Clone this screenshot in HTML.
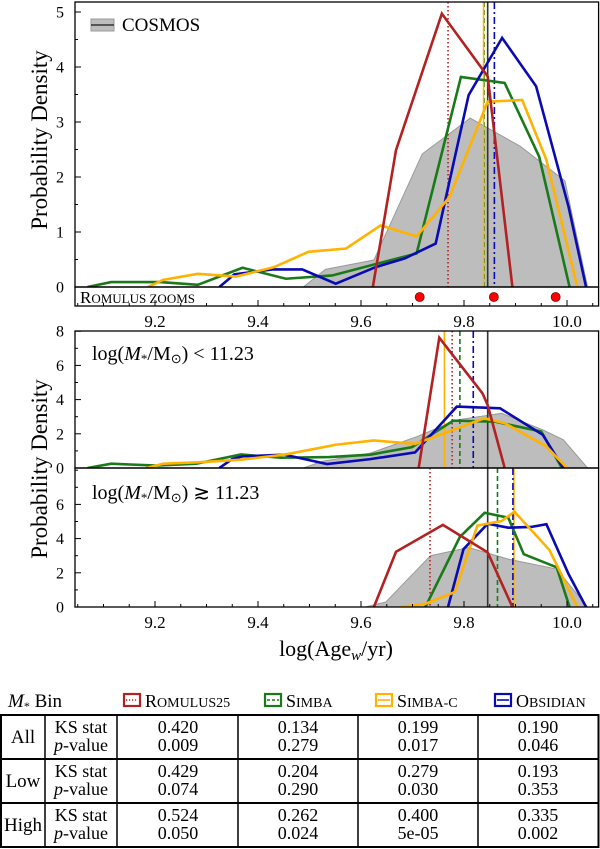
<!DOCTYPE html>
<html><head><meta charset="utf-8">
<style>
body{margin:0;background:#fff;width:600px;height:849px;overflow:hidden;font-family:"Liberation Serif",serif;}
svg{position:absolute;left:0;top:0}
</style></head>
<body>
<svg id="chart" width="600" height="849" viewBox="0 0 600 849" font-family="Liberation Serif, serif"></svg>
<script>
// ---------- data ----------
const topCosmosX=[9.488,9.531,9.625,9.719,9.812,9.909,9.996,10.040];
const topCosmosY=[0,0.32,0.49,2.42,3.07,2.56,1.93,0];
const topRomX=[9.623,9.668,9.757,9.846,9.894];
const topRomY=[0,2.49,4.97,3.83,0];
const topSimX=[9.069,9.115,9.210,9.283,9.370,9.454,9.544,9.708,9.794,9.879,9.946,10.005];
const topSimY=[0,0.09,0.09,0.04,0.35,0.15,0.21,0.61,3.82,3.71,2.37,0];
const topSimCX=[9.186,9.216,9.283,9.357,9.431,9.498,9.571,9.638,9.708,9.772,9.846,9.913,9.960,10.020];
const topSimCY=[0,0.13,0.24,0.19,0.36,0.64,0.70,1.12,0.92,1.64,3.37,3.40,2.31,0];
const topObsX=[9.325,9.354,9.427,9.486,9.551,9.628,9.685,9.745,9.809,9.874,9.940,10.003,10.037];
const topObsY=[0,0.23,0.32,0.32,0.06,0.36,0.52,0.79,3.49,4.53,3.65,1.46,0];
const topMedians=[9.769,9.839,9.838,9.859,9.846]; // rom, simba, simbaC, obs, cosmos
const zoomAges=[9.714,9.858,9.978];

const lowCosmosX=[9.488,9.525,9.618,9.709,9.786,9.873,9.953,9.993,10.040];
const lowCosmosY=[0,0.39,0.87,1.84,2.81,3.20,2.23,1.65,0];
const lowRomX=[9.712,9.752,9.836,9.846,9.879];
const lowRomY=[0,7.62,4.36,3.68,0];
const lowSimX=[9.069,9.115,9.203,9.280,9.367,9.444,9.538,9.618,9.699,9.779,9.860,9.950,9.990];
const lowSimY=[0,0.25,0.14,0.25,0.79,0.60,0.64,0.78,1.22,2.77,2.71,2.13,0];
const lowSimCX=[9.183,9.216,9.283,9.364,9.451,9.551,9.625,9.705,9.779,9.839,9.879,9.960,10.000];
const lowSimCY=[0,0.25,0.33,0.48,0.78,1.36,1.61,1.41,2.23,2.91,2.62,1.26,0];
const lowObsX=[9.325,9.350,9.370,9.451,9.534,9.618,9.705,9.786,9.870,9.953,9.993];
const lowObsY=[0,0.52,0.68,0.78,0.23,0.52,0.91,3.59,3.49,1.94,0];
const lowMedians=[9.777,9.792,9.762,9.818,9.846];

const highCosmosX=[9.608,9.648,9.735,9.809,9.886,9.980,10.040];
const highCosmosY=[0,0.29,3.0,3.48,2.80,2.22,0];
const highRomX=[9.625,9.668,9.759,9.846,9.894];
const highRomY=[0,3.23,4.80,3.19,0];
const highSimX=[9.725,9.792,9.840,9.886,9.916,9.980,10.005];
const highSimY=[0,4.10,5.51,5.22,3.09,2.32,0];
const highSimCX=[9.675,9.725,9.782,9.826,9.873,9.898,9.966,10.020];
const highSimCY=[0,0.19,0.87,4.76,5.03,5.57,3.33,0];
const highObsX=[9.769,9.799,9.846,9.886,9.930,9.960,10.003,10.037];
const highObsY=[0,3.38,4.87,4.64,4.68,4.84,1.93,0];
const highMedians=[9.734,9.865,9.897,9.895,9.846];

const xTicks=[9.2,9.4,9.6,9.8,10.0];
const xTickLabels=["9.2","9.4","9.6","9.8","10.0"];
const topYTicks=[0,1,2,3,4,5];
const subYTicks=[0,2,4,6,8];

// ---------- geometry ----------
const L=75,R=598.6;
const X=v=>155+(v-9.2)*515;
const NS="http://www.w3.org/2000/svg";
const svg=document.getElementById('chart');
function el(tag,attrs,parent){const e=document.createElementNS(NS,tag);for(const k in attrs)e.setAttribute(k,attrs[k]);(parent||svg).appendChild(e);return e;}
const COL={rom:"#b22222",sim:"#1a7a1a",simc:"#ffb300",obs:"#0a0ab4",cos:"#000"};

function panel(name,top,bottom,y0px,pxPerUnit,ymax,series,medians,medTop,yticks,minorStep){
  const g=el('g',{});
  
  
  const Y=v=>y0px-v*pxPerUnit;
  const clip=el('clipPath',{id:'clip-'+name},g);
  el('rect',{x:L,y:top,width:R-L,height:bottom-top},clip);
  const pg=el('g',{'clip-path':'url(#clip-'+name+')'},g);
  let d='M'+X(series.cx[0])+','+Y(0);
  series.cx.forEach((v,i)=>d+=' L'+X(v)+','+Y(series.cy[i]));
  d+=' Z';
  const c=el('path',{d:d,fill:'#bdbdbd',stroke:'#9a9a9a','stroke-width':1},pg);
  
  
  const mstyles=[[COL.rom,'1.5,2.5',1.6],[COL.sim,'5,3',1.6],[COL.simc,'',1.6],[COL.obs,'7,3,2,3',1.6],['#333','',1.6]];
  const mnames=['median-romulus25','median-simba','median-simba-c','median-obsidian','median-cosmos'];
  medians.forEach((m,i)=>{
    const ln=el('line',{x1:X(m),x2:X(m),y1:medTop,y2:y0px,stroke:mstyles[i][0],'stroke-width':mstyles[i][2],'stroke-dasharray':mstyles[i][1]},pg);
    
    
  });
  const order=[['sx','sy',COL.sim,'simba-line'],['ox','oy',COL.obs,'obsidian-line'],['scx','scy',COL.simc,'simba-c-line'],['rx','ry',COL.rom,'romulus25-line']];
  order.forEach(o=>{
    const xs=series[o[0]],ys=series[o[1]];
    const pts=xs.map((v,i)=>X(v)+','+Y(ys[i])).join(' ');
    const p=el('polyline',{points:pts,fill:'none',stroke:o[2],'stroke-width':2.6,'stroke-linejoin':'miter'},pg);
    
    
  });
  el('rect',{x:L,y:top,width:R-L,height:bottom-top,fill:'none',stroke:'#000','stroke-width':1.3},g);
  yticks.forEach(t=>{
    el('line',{x1:L,x2:L+6,y1:Y(t),y2:Y(t),stroke:'#000','stroke-width':1},g);
    const tx=el('text',{x:L-11,y:Y(t)+5.5,'text-anchor':'end','font-size':16},g);tx.textContent=t;
    
    
  });
  for(let t=minorStep;t<ymax;t+=minorStep){if(yticks.indexOf(Math.round(t*100)/100)>=0)continue;el('line',{x1:L,x2:L+3,y1:Y(t),y2:Y(t),stroke:'#000','stroke-width':1},g);}
  return Y;
}

panel('panel-all',2,287,287,55,5.18,{cx:topCosmosX,cy:topCosmosY,rx:topRomX,ry:topRomY,sx:topSimX,sy:topSimY,scx:topSimCX,scy:topSimCY,ox:topObsX,oy:topObsY},topMedians,2,topYTicks,0.5);
el('rect',{x:L,y:287,width:R-L,height:19,fill:'none',stroke:'#000','stroke-width':1.3});
const rz=el('text',{x:80,y:303,'font-size':17});
rz.innerHTML='R<tspan font-size="13">OMULUS ZOOMS</tspan>';


zoomAges.forEach(a=>{
  const c=el('circle',{cx:X(a),cy:297,r:4.5,fill:'#ff0000',stroke:'#8b0000','stroke-width':0.8});
  
  
});
xTicks.forEach((t,i)=>{
  el('line',{x1:X(t),x2:X(t),y1:306,y2:300,stroke:'#000'});
  const tx=el('text',{x:X(t),y:327,'text-anchor':'middle','font-size':17});tx.textContent=xTickLabels[i];
  
  
});
for(let v=9.05;v<10.06;v+=0.05){el('line',{x1:X(v),x2:X(v),y1:306,y2:303,stroke:'#000'});}
const lg=el('g',{});


el('rect',{x:91,y:19,width:23,height:12,fill:'#bdbdbd',stroke:'#9a9a9a'},lg);
el('line',{x1:91,x2:114,y1:25,y2:25,stroke:'#333','stroke-width':1.5},lg);
const lt=el('text',{x:122,y:31,'font-size':19},lg);lt.textContent='COSMOS';

panel('panel-low',331,468,468,17.1,8,{cx:lowCosmosX,cy:lowCosmosY,rx:lowRomX,ry:lowRomY,sx:lowSimX,sy:lowSimY,scx:lowSimCX,scy:lowSimCY,ox:lowObsX,oy:lowObsY},lowMedians,331,subYTicks,1);
panel('panel-high',468,607,607,17.1,8.1,{cx:highCosmosX,cy:highCosmosY,rx:highRomX,ry:highRomY,sx:highSimX,sy:highSimY,scx:highSimCX,scy:highSimCY,ox:highObsX,oy:highObsY},highMedians,468,[0,2,4,6],1);
xTicks.forEach((t,i)=>{
  el('line',{x1:X(t),x2:X(t),y1:607,y2:601,stroke:'#000'});
  const tx=el('text',{x:X(t),y:628,'text-anchor':'middle','font-size':17});tx.textContent=xTickLabels[i];
  
  
});
for(let v=9.05;v<10.06;v+=0.05){el('line',{x1:X(v),x2:X(v),y1:607,y2:604,stroke:'#000'});}
const pl1=el('text',{x:92,y:360,'font-size':20});
pl1.innerHTML='log(<tspan font-style="italic">M</tspan><tspan font-size="13" dy="3">*</tspan><tspan dy="-3">/M</tspan><tspan font-size="13" dy="3">⊙</tspan><tspan dy="-3">) &lt; 11.23</tspan>';


const pl2=el('text',{x:92,y:499,'font-size':20});
pl2.innerHTML='log(<tspan font-style="italic">M</tspan><tspan font-size="13" dy="3">*</tspan><tspan dy="-3">/M</tspan><tspan font-size="13" dy="3">⊙</tspan><tspan dy="-3">) ≳ 11.23</tspan>';


const yl1=el('text',{x:0,y:0,'font-size':23,'text-anchor':'middle',transform:'translate(47,140) rotate(-90)'});yl1.textContent='Probability Density';


const yl2=el('text',{x:0,y:0,'font-size':23,'text-anchor':'middle',transform:'translate(47,469) rotate(-90)'});yl2.textContent='Probability Density';


const xl=el('text',{x:336,y:656,'font-size':22,'text-anchor':'middle'});
xl.innerHTML='log(Age<tspan font-size="15" font-style="italic" dy="4">w</tspan><tspan dy="-4">/yr)</tspan>';



// ---------- table ----------
const tb=el('g',{'font-size':18});


const hd=el('text',{x:8,y:707,'font-size':19},tb);
hd.innerHTML='<tspan font-style="italic">M</tspan><tspan font-size="12" dy="3">*</tspan><tspan dy="-3"> Bin</tspan>';
const heads=[['R','OMULUS25',COL.rom,'1.2,1.8',124],['S','IMBA',COL.sim,'3,2',265],['S','IMBA-C',COL.simc,'',376],['O','BSIDIAN',COL.obs,'',495]];
heads.forEach(h=>{
  el('rect',{x:h[4],y:694,width:16,height:12,fill:'none',stroke:h[2],'stroke-width':2.2},tb);
  el('line',{x1:h[4]+2,x2:h[4]+14,y1:700,y2:700,stroke:h[2],'stroke-width':1.6,'stroke-dasharray':h[3]},tb);
  const t=el('text',{x:h[4]+21,y:707,'font-size':18},tb);
  t.innerHTML=h[0]+'<tspan font-size="14">'+h[1]+'</tspan>';
});
el('rect',{x:1,y:715,width:597.5,height:132,fill:'none',stroke:'#000','stroke-width':2},tb);
[759,803].forEach(y=>el('line',{x1:1,x2:599,y1:y,y2:y,stroke:'#000','stroke-width':2},tb));
[45,117,238,358,478].forEach(x=>el('line',{x1:x,x2:x,y1:715,y2:847,stroke:'#000','stroke-width':1.5},tb));
const rows=[['All',['0.420','0.134','0.199','0.190'],['0.009','0.279','0.017','0.046']],
            ['Low',['0.429','0.204','0.279','0.193'],['0.074','0.290','0.030','0.353']],
            ['High',['0.524','0.262','0.400','0.335'],['0.050','0.024','5e-05','0.002']]];
const cx=[178,298,418,538];
rows.forEach((r,i)=>{
  const yt=715+i*44;
  const a=el('text',{x:23,y:yt+28,'text-anchor':'middle','font-size':19},tb);a.textContent=r[0];
  const k=el('text',{x:81,y:yt+18,'text-anchor':'middle'},tb);k.textContent='KS stat';
  const p=el('text',{x:81,y:yt+36,'text-anchor':'middle'},tb);p.innerHTML='<tspan font-style="italic">p</tspan>-value';
  r[1].forEach((v,j)=>{const t=el('text',{x:cx[j],y:yt+18,'text-anchor':'middle'},tb);t.textContent=v;});
  r[2].forEach((v,j)=>{const t=el('text',{x:cx[j],y:yt+36,'text-anchor':'middle'},tb);t.textContent=v;});
});
</script>
</body></html>
